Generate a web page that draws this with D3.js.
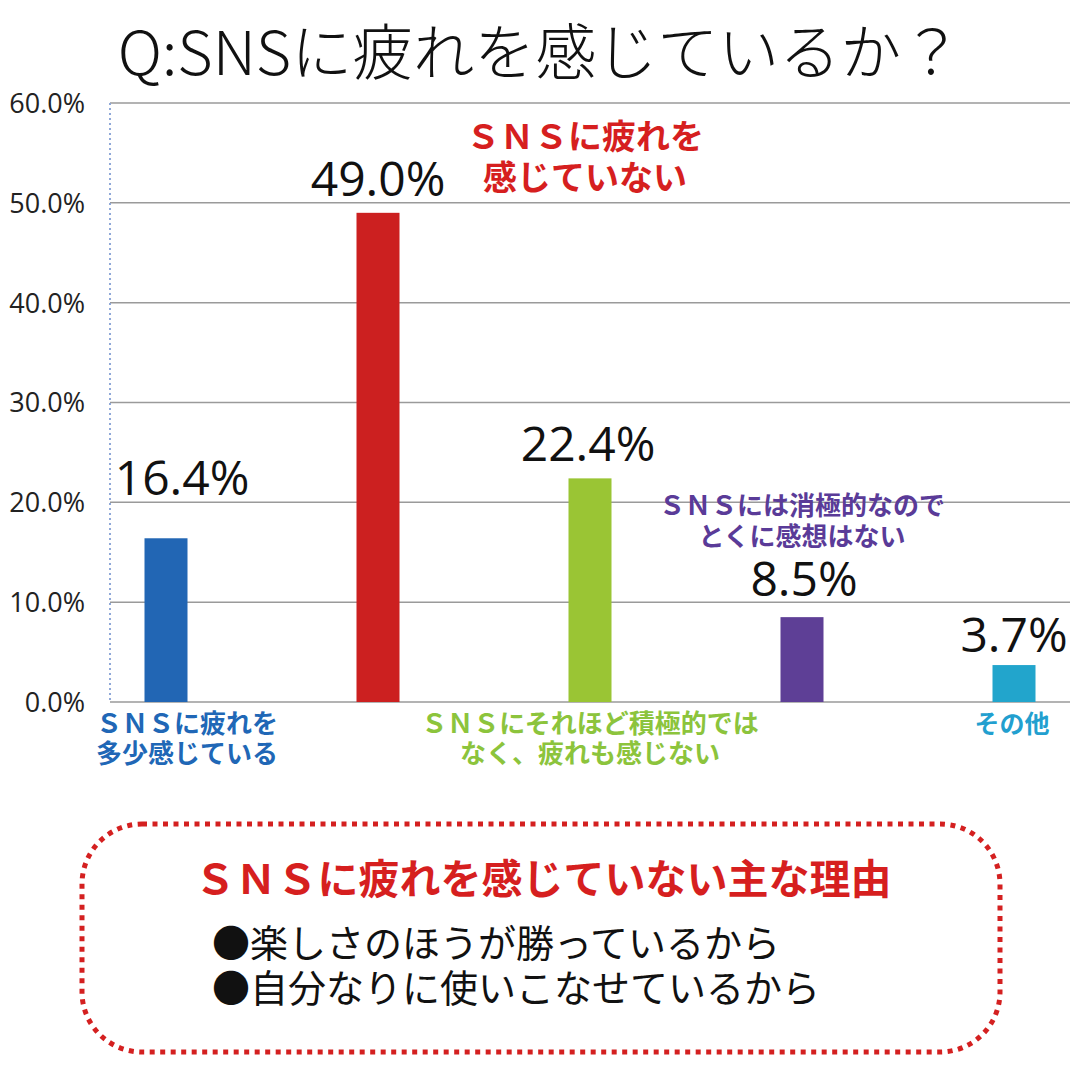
<!DOCTYPE html>
<html><head><meta charset="utf-8">
<script src="https://cdn.jsdelivr.net/npm/d3@7"></script>
<style>html,body{margin:0;padding:0;background:#fff;}svg{display:block;}</style>
</head><body>
<svg id="c" width="1080" height="1080"></svg>
<script>
const categories = ["blue", "red", "green", "purple", "cyan"];
const values = [16.4, 49.0, 22.4, 8.5, 3.7];
const valueLabels = ["16.4%", "49.0%", "22.4%", "8.5%", "3.7%"];
const categoryLabels = [
  ["ＳＮＳに疲れを", "多少感じている"],
  ["ＳＮＳに疲れを", "感じていない"],
  ["ＳＮＳにそれほど積極的では", "なく、疲れも感じない"],
  ["ＳＮＳには消極的なので", "とくに感想はない"],
  ["その他"]
];
const yTicks = [0, 10, 20, 30, 40, 50, 60];
const tickLabels = ["0.0%", "10.0%", "20.0%", "30.0%", "40.0%", "50.0%", "60.0%"];
const titleText = "Q:SNSに疲れを感じているか？";
const boxTitle = "ＳＮＳに疲れを感じていない主な理由";
const reasons = ["●楽しさのほうが勝っているから", "●自分なりに使いこなせているから"];

const barColors = ["#2266b4", "#cc2020", "#9ac534", "#5e3f96", "#22a5cc"];
const textColors = ["#2067b6", "#d61f1f", "#8cc43c", "#5a3b98", "#229fcf"];

(function () {
const svg = d3.select("#c");
const F = "'Noto Sans CJK JP','Noto Sans',sans-serif";
const NUM = "'Open Sans','DejaVu Sans',sans-serif";
const pLeft = 110, pRight = 1070, pTop = 103, pBottom = 702;

const x = d3.scalePoint().domain(categories).range([166, 1014]);
const y = d3.scaleLinear().domain([0, 60]).range([pBottom, pTop]);
const barW = 43;

svg.append("text").attr("x", 540).attr("y", 75).attr("text-anchor", "middle")
  .attr("font-family", F).attr("font-weight", 300).attr("font-size", 61).attr("fill", "#111")
  .text(titleText);

// grid
svg.append("g").selectAll("line").data(yTicks).join("line")
  .attr("x1", pLeft).attr("x2", pRight).attr("y1", d => y(d)).attr("y2", d => y(d))
  .attr("stroke", "#9a9a9a").attr("stroke-width", 1.5);
svg.append("line").attr("x1", pLeft).attr("x2", pLeft).attr("y1", pTop).attr("y2", pBottom)
  .attr("stroke", "#8fa8d8").attr("stroke-width", 2).attr("stroke-dasharray", "2 3");

const yAxis = d3.axisLeft(y).tickValues(yTicks).tickFormat((d, i) => tickLabels[i]).tickSize(0).tickPadding(0);
const ga = svg.append("g").attr("transform", `translate(85,0)`).call(yAxis);
ga.select(".domain").remove();
ga.selectAll("text").attr("font-family", NUM)
  .attr("font-size", 27).attr("fill", "#222").attr("dy", "0.35em");

// bars
svg.append("g").selectAll("rect").data(values).join("rect")
  .attr("x", (d, i) => x(categories[i]) - barW / 2).attr("width", barW)
  .attr("y", d => y(d)).attr("height", d => pBottom - y(d))
  .attr("fill", (d, i) => barColors[i]);

// value labels
const nudgeX = [16, 0, -2, 2, 0];
const nudgeY = [-43, -17, -17, -21, -13];
svg.append("g").selectAll("text").data(values).join("text")
  .attr("x", (d, i) => x(categories[i]) + nudgeX[i]).attr("y", (d, i) => y(d) + nudgeY[i])
  .attr("text-anchor", "middle").attr("font-family", NUM)
  .attr("font-size", 48).attr("fill", "#111").text((d, i) => valueLabels[i]);

// category labels
const labPos = [
  {dx: 21, y: 733, fs: 26, lh: 30},
  {dx: 207, y: 149, fs: 34, lh: 41},
  {dx: 0, y: 733, fs: 26, lh: 30},
  {dx: 0, y: 515, fs: 26, lh: 31},
  {dx: -2, y: 733, fs: 25, lh: 30}
];
categoryLabels.forEach((lines, i) => {
  const p = labPos[i];
  const t = svg.append("text").attr("text-anchor", "middle").attr("font-family", F)
    .attr("font-weight", 700).attr("font-size", p.fs).attr("fill", textColors[i]);
  lines.forEach((l, j) => t.append("tspan").attr("x", x(categories[i]) + p.dx)
    .attr("y", p.y + j * p.lh).text(l));
});

// box
svg.append("rect").attr("x", 82).attr("y", 824).attr("width", 918).attr("height", 228)
  .attr("rx", 60).attr("ry", 60).attr("fill", "none").attr("stroke", "#d42020")
  .attr("stroke-width", 5).attr("stroke-dasharray", "5 5.5");
svg.append("text").attr("x", 543).attr("y", 894).attr("text-anchor", "middle")
  .attr("font-family", F).attr("font-weight", 700).attr("font-size", 41).attr("fill", "#d61f1f")
  .text(boxTitle);
svg.append("g").selectAll("text").data(reasons).join("text")
  .attr("x", 212).attr("y", (d, i) => 957 + i * 45)
  .attr("font-family", F).attr("font-weight", 400).attr("font-size", 38).attr("fill", "#111")
  .text(d => d);
})();
</script>
</body></html>
